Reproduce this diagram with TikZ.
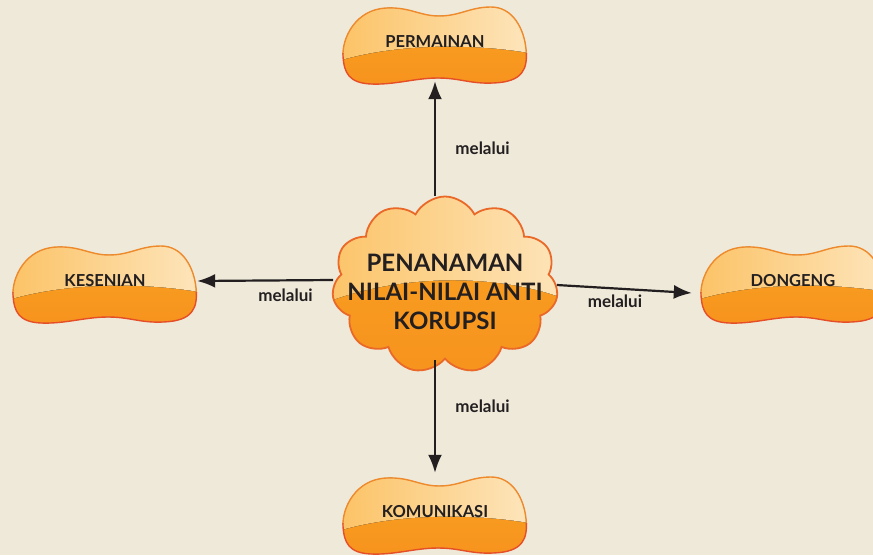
\documentclass[tikz,border=0pt]{standalone}
\usepackage{fontspec}
\setmainfont{Lato}
\usetikzlibrary{arrows.meta,shapes.symbols,backgrounds,positioning}

\definecolor{bgCol}{RGB}{238,233,217}
\definecolor{lightL}{RGB}{252,194,100}
\definecolor{lightR}{RGB}{253,230,190}
\definecolor{orangeT}{RGB}{249,164,32}
\definecolor{orangeB}{RGB}{247,146,30}
\definecolor{edgeCol}{RGB}{234,104,40}
\definecolor{edgeTop}{RGB}{238,138,44}
\definecolor{edgeBot}{RGB}{230,78,40}
\definecolor{inkCol}{RGB}{35,31,32}

% bean shaped box drawn under a named node
\newcommand{\bean}[1]{%
  \begin{scope}[shift={([yshift=-3pt]#1.center)}]
    \path[save path=\beanp] (-92,11) .. controls (-93,-6) and (-80,-36) .. (-48,-37)
      .. controls (-25,-38) and (-15,-29) .. (4,-29)
      .. controls (25,-29) and (35,-38) .. (56,-38)
      .. controls (78,-38) and (89,-16) .. (91,4)
      .. controls (93,24) and (88,37) .. (58,38)
      .. controls (35,39) and (25,33) .. (3,33)
      .. controls (-20,33) and (-40,40) .. (-64,39)
      .. controls (-86,38) and (-91,28) .. cycle;
    \begin{scope}
      \clip[use path=\beanp];
      \fill[top color=orangeT, bottom color=orangeB] (-100,-45) rectangle (100,45);
      \fill[left color=lightL, right color=lightR] (-100,-45) -- (100,-45) -- (100,9)
        .. controls (40,-2) and (-40,-2) .. (-100,17) -- cycle;
    \end{scope}
    \begin{scope}
      \clip (-100,-50) rectangle (100,8);
      \draw[beanEdge, draw=edgeTop, use path=\beanp];
    \end{scope}
    \begin{scope}
      \clip (-100,8) rectangle (100,50);
      \draw[beanEdge, draw=edgeBot, use path=\beanp];
    \end{scope}
  \end{scope}}

\begin{document}
\begin{tikzpicture}[x=1pt, y=-1pt, >={Latex[length=18pt,width=14pt]}]
  \tikzstyle{bean} = [minimum width=184pt, minimum height=78pt, inner sep=0pt, text=inkCol, font={\fontsize{16.5}{20}\selectfont\bfseries}]
  \tikzstyle{beanEdge} = [line width=1.4pt]
  \tikzstyle{cloudNode} = [cloud, cloud puffs=11, cloud puff arc=125, minimum width=226pt, minimum height=177pt, draw=edgeCol, line width=1.8pt,
    path picture={\begin{scope}[shift={(path picture bounding box.center)}]
      \fill[top color=orangeT, bottom color=orangeB] (-130,-100) rectangle (130,100);
      \fill[left color=lightL, right color=lightR] (-130,-100) -- (130,-100) -- (130,18)
        .. controls (60,-13) and (-50,-13) .. (-130,22) -- cycle;
    \end{scope}}]
  \tikzstyle{cloudText} = [align=center, text=inkCol, font={\fontsize{24}{29}\selectfont\bfseries}]
  \tikzstyle{link} = [inkCol, line width=2.2pt, ->]
  \tikzstyle{linkLabel} = [text=inkCol, font={\fontsize{17}{20}\selectfont\bfseries}]

  \useasboundingbox (0,0) rectangle (873,555);

  \node[cloudNode] (nilaiCloud) at (445,285) {};
  \node[cloudText] (nilai) at ([yshift=-7pt]nilaiCloud.center) {PENANAMAN\\NILAI-NILAI ANTI\\KORUPSI};

  \node[bean] (perm) at (435,42)  {PERMAINAN};
  \node[bean] (kes)  at (105,281) {KESENIAN};
  \node[bean] (dong) at (793,281) {DONGENG};
  \node[bean] (komu) at (435,512) {KOMUNIKASI};

  \draw[link] (nilaiCloud.north -| perm.south) -- node[linkLabel, pos=0.41, right=16pt] {melalui} (perm.south);
  \draw[link] ([yshift=5pt]nilaiCloud.west) -- node[linkLabel, pos=0.35, below=4pt] {melalui} (kes.east);
  \draw[link] (nilaiCloud.east) -- node[linkLabel, pos=0.43, below=2pt] {melalui} ([xshift=-9pt,yshift=-12pt]dong.west);
  \draw[link] (nilaiCloud.south -| komu.north) -- node[linkLabel, pos=0.41, right=16pt] {melalui} (komu.north);

  \begin{scope}[on background layer]
    \clip (0,0) rectangle (873,555);
    \fill[bgCol] (0,0) rectangle (873,555);
    \bean{perm}
    \bean{kes}
    \bean{dong}
    \bean{komu}
  \end{scope}
\end{tikzpicture}
\end{document}
